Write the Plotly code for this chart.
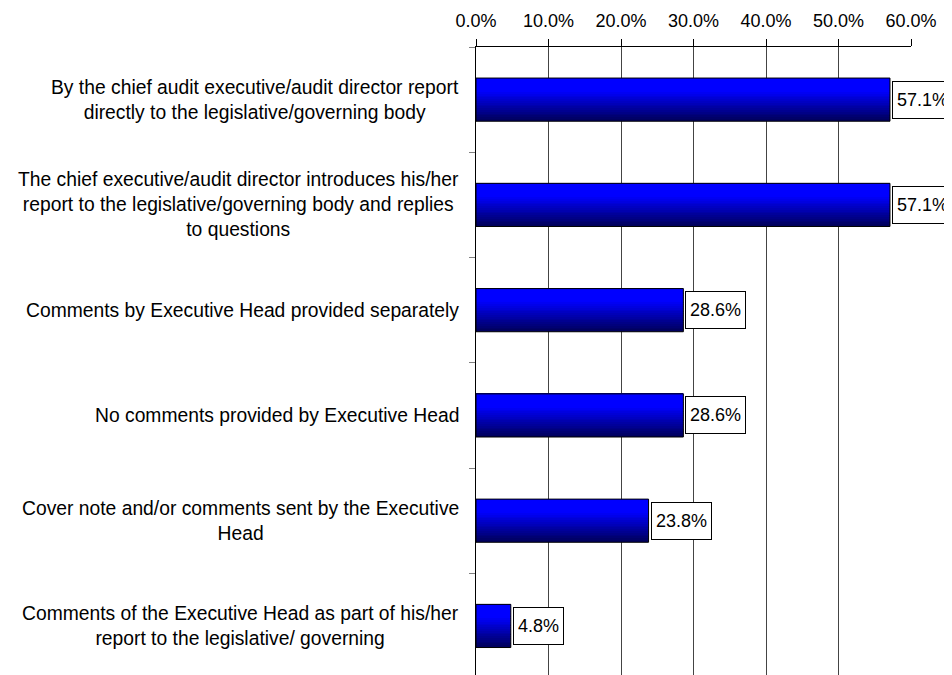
import plotly.graph_objects as go

categories = [
    "By the chief audit executive/audit director report<br>directly to the legislative/governing body",
    "The chief executive/audit director introduces his/her<br>report to the legislative/governing body and replies<br>to questions",
    "Comments by Executive Head provided separately",
    "No comments provided by Executive Head",
    "Cover note and/or comments sent by the Executive<br>Head",
    "Comments of the Executive Head as part of his/her<br>report to the legislative/ governing",
]
values = [0.571, 0.571, 0.286, 0.286, 0.238, 0.048]

FONT = "Liberation Sans, Arial, sans-serif"
bar_w = 0.41
n_slices = 24

fig = go.Figure()

# fake the vertical gradient fill with thin stacked slices
for i in range(n_slices):
    t = i / (n_slices - 1)
    if t < 0.3:
        b = 255
    else:
        b = int(255 - (t - 0.3) / 0.7 * 160)
    fig.add_trace(go.Bar(
        x=values, y=categories, orientation="h",
        width=bar_w / n_slices, offset=-bar_w / 2 + i * bar_w / n_slices,
        marker=dict(color=f"rgb(0,0,{b})", line=dict(width=0)),
        showlegend=False, hoverinfo="skip",
    ))

# outline
fig.add_trace(go.Bar(
    x=values, y=categories, orientation="h",
    width=bar_w, offset=-bar_w / 2,
    marker=dict(color="rgba(0,0,0,0)", line=dict(color="black", width=1)),
    showlegend=False, hoverinfo="skip",
))

annotations = []
for cat, v in zip(categories, values):
    annotations.append(dict(
        x=v, y=cat, xref="x", yref="y", text=f"{v:.1%}",
        xanchor="left", xshift=2, showarrow=False,
        font=dict(family=FONT, size=18, color="black"),
        bgcolor="white", bordercolor="black", borderwidth=1,
        borderpad=4, height=28,
    ))
    annotations.append(dict(
        x=0, y=cat, xref="paper", yref="y", text=cat,
        xanchor="right", xshift=-15, align="center", showarrow=False,
        font=dict(family=FONT, size=19.3, color="black"),
    ))

fig.update_layout(
    width=952, height=675,
    margin=dict(l=468, r=49, t=39, b=0),
    plot_bgcolor="white", paper_bgcolor="white",
    barmode="overlay",
    font=dict(family=FONT, color="black"),
    annotations=annotations,
)
fig.update_xaxes(
    side="top", range=[0, 0.6], dtick=0.1, tickformat=".1%",
    ticks="outside", ticklen=7, tickcolor="black",
    showline=True, linecolor="black", linewidth=1,
    showgrid=True, gridcolor="#444444", gridwidth=1, zeroline=False,
    tickfont=dict(size=18), ticklabelstandoff=5, automargin=False,
)
fig.update_yaxes(
    type="category", range=[5.542, -0.5], showticklabels=False,
    ticks="outside", ticklen=6, tickcolor="#808080", tickson="boundaries",
    showline=True, linecolor="black", linewidth=1,
    showgrid=False, zeroline=False, automargin=False,
)

fig.write_html("out.html")
